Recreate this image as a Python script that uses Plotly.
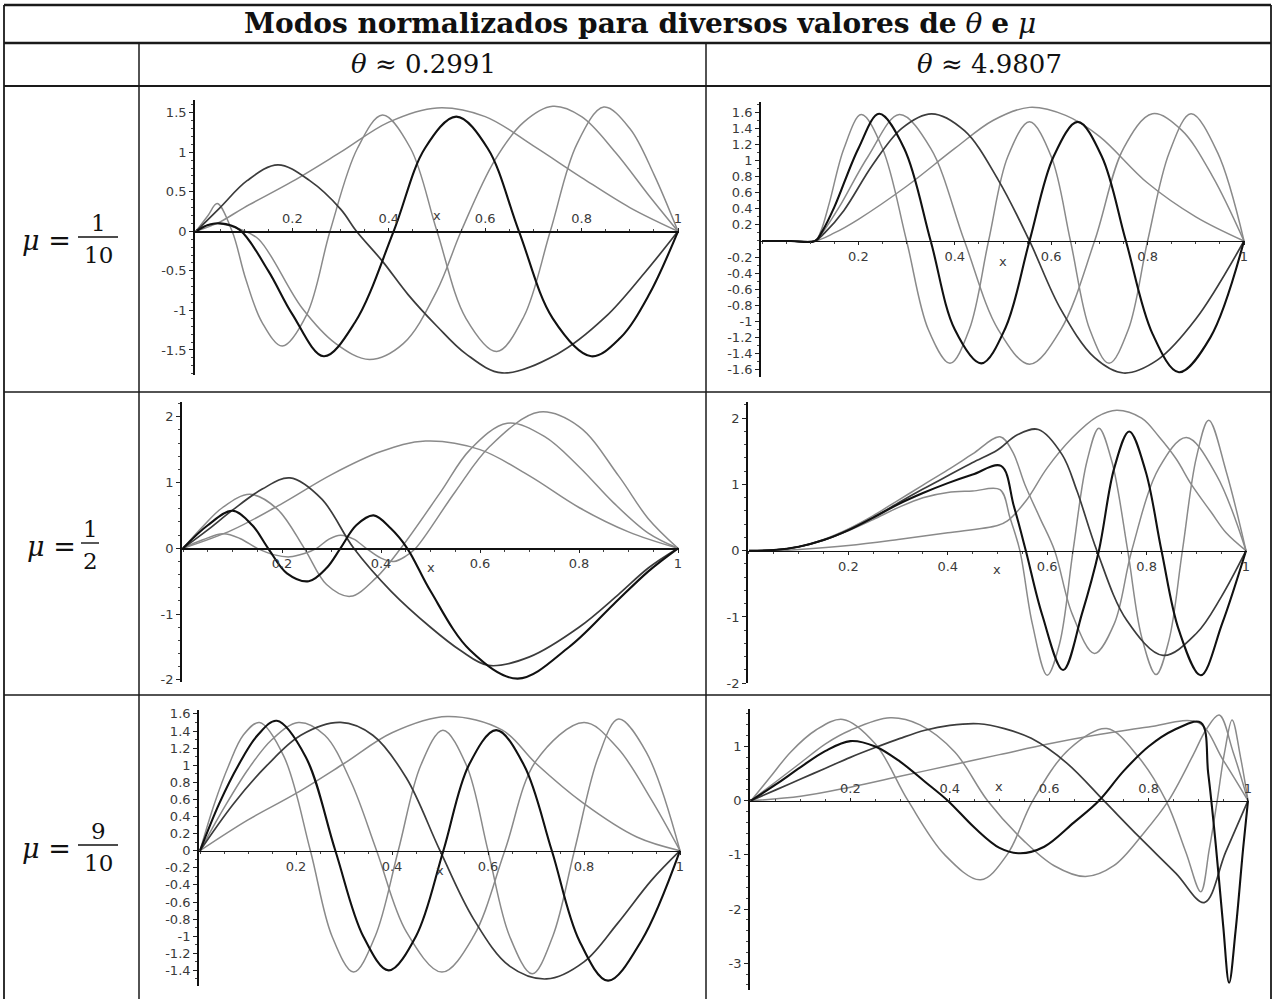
import plotly.graph_objects as go

# ======================= DATA =======================
# Panel A : theta ~ 0.2991, mu = 1/10
a_x1 = [0, 0.05, 0.1, 0.2, 0.3, 0.4, 0.5, 0.6, 0.7, 0.8, 0.9, 1.0]
a_y1 = [0, 0.12, 0.3, 0.63, 1.0, 1.38, 1.56, 1.45, 1.08, 0.68, 0.3, 0]
a_x2 = [0, 0.05, 0.106, 0.17, 0.236, 0.3, 0.333, 0.387, 0.44, 0.5, 0.56, 0.635, 0.75, 0.85, 0.93, 1]
a_y2 = [0, 0.3, 0.64, 0.84, 0.64, 0.28, 0, -0.38, -0.8, -1.2, -1.55, -1.79, -1.55, -1.08, -0.53, 0]
a_x3 = [0, 0.02, 0.04, 0.09, 0.13, 0.22, 0.29, 0.36, 0.43, 0.5, 0.55, 0.62, 0.68, 0.74, 0.8, 0.87, 0.94, 1]
a_y3 = [0, 0.07, 0.1, 0.03, -0.1, -0.97, -1.42, -1.62, -1.42, -0.75, 0, 0.9, 1.38, 1.58, 1.45, 1.0, 0.45, 0]
a_x4 = [0, 0.025, 0.05, 0.09, 0.15, 0.2, 0.265, 0.33, 0.41, 0.475, 0.54, 0.605, 0.67, 0.74, 0.82, 0.88, 0.94, 1]
a_y4 = [0, 0.08, 0.1, 0.02, -0.5, -1.05, -1.58, -1.15, 0, 1.05, 1.45, 1.05, 0, -1.1, -1.58, -1.35, -0.8, 0]
a_x5 = [0, 0.025, 0.044, 0.075, 0.103, 0.137, 0.179, 0.23, 0.278, 0.335, 0.387, 0.445, 0.5, 0.56,
        0.624, 0.68, 0.735, 0.79, 0.846, 0.9, 0.95, 1]
a_y5 = [0, 0.2, 0.35, 0.0, -0.6, -1.15, -1.45, -1.05, 0, 1.05, 1.47, 1.05, 0, -1.1,
        -1.52, -1.08, 0, 1.1, 1.57, 1.3, 0.72, 0]

# Panel B : theta ~ 4.9807, mu = 1/10
b_x1 = [0, 0.06, 0.11, 0.15, 0.2, 0.3, 0.4, 0.48, 0.555, 0.63, 0.7, 0.8, 0.9, 1]
b_y1 = [0, 0, 0, 0.1, 0.27, 0.68, 1.15, 1.5, 1.66, 1.56, 1.3, 0.72, 0.3, 0]
b_x2 = [0, 0.06, 0.11, 0.13, 0.17, 0.23, 0.29, 0.352, 0.42, 0.49, 0.555, 0.62, 0.69, 0.75, 0.82, 0.9, 1]
b_y2 = [0, 0, 0, 0.1, 0.38, 0.95, 1.4, 1.58, 1.37, 0.76, 0, -0.85, -1.45, -1.64, -1.48, -0.97, 0]
b_x3 = [0, 0.06, 0.11, 0.125, 0.16, 0.22, 0.285, 0.35, 0.42, 0.49, 0.555, 0.62, 0.69, 0.75, 0.81, 0.87, 0.935, 1]
b_y3 = [0, 0, 0, 0.1, 0.42, 1.05, 1.57, 1.15, 0, -1.1, -1.53, -1.1, 0, 1.15, 1.58, 1.38, 0.8, 0]
b_x4 = [0, 0.06, 0.11, 0.125, 0.15, 0.2, 0.243, 0.295, 0.35, 0.4, 0.455, 0.505, 0.555, 0.605, 0.655,
        0.705, 0.755, 0.81, 0.865, 0.93, 1]
b_y4 = [0, 0, 0, 0.12, 0.42, 1.15, 1.58, 1.15, 0, -1.1, -1.52, -1.08, 0, 1.05, 1.48,
        1.05, 0, -1.15, -1.63, -1.2, 0]
b_x5 = [0, 0.06, 0.11, 0.122, 0.14, 0.17, 0.206, 0.25, 0.30, 0.345, 0.39, 0.43, 0.47, 0.51, 0.555,
        0.6, 0.64, 0.68, 0.72, 0.76, 0.8, 0.845, 0.89, 0.945, 1]
b_y5 = [0, 0, 0, 0.12, 0.48, 1.15, 1.57, 1.15, 0, -1.1, -1.52, -1.1, 0, 1.05, 1.48,
        1.05, 0, -1.1, -1.52, -1.1, 0, 1.1, 1.58, 1.1, 0]

# Panel C : theta ~ 0.2991, mu = 1/2
c_x1 = [0, 0.1, 0.2, 0.3, 0.4, 0.49, 0.6, 0.7, 0.8, 0.9, 1]
c_y1 = [0, 0.28, 0.68, 1.12, 1.47, 1.63, 1.5, 1.1, 0.62, 0.25, 0]
c_x2 = [0, 0.05, 0.1, 0.16, 0.216, 0.28, 0.345, 0.42, 0.5, 0.56, 0.617, 0.7, 0.8, 0.88, 0.94, 1]
c_y2 = [0, 0.28, 0.58, 0.9, 1.07, 0.75, 0, -0.65, -1.2, -1.55, -1.78, -1.65, -1.2, -0.7, -0.3, 0]
c_x3 = [0, 0.04, 0.08, 0.135, 0.19, 0.245, 0.29, 0.338, 0.39, 0.44, 0.52, 0.58, 0.655, 0.73, 0.8, 0.87, 0.94, 1]
c_y3 = [0, 0.33, 0.62, 0.82, 0.6, 0, -0.55, -0.73, -0.45, 0, 0.85, 1.5, 1.9, 1.7, 1.24, 0.69, 0.23, 0]
c_x4 = [0, 0.05, 0.1, 0.14, 0.172, 0.21, 0.254, 0.29, 0.318, 0.35, 0.385, 0.42, 0.453, 0.5, 0.58,
        0.676, 0.78, 0.87, 0.94, 1]
c_y4 = [0, 0.35, 0.57, 0.35, 0, -0.38, -0.5, -0.3, 0, 0.35, 0.5, 0.3, 0, -0.65, -1.55,
        -1.98, -1.5, -0.85, -0.35, 0]
c_x5 = [0, 0.04, 0.081, 0.115, 0.15, 0.185, 0.216, 0.245, 0.27, 0.295, 0.318, 0.345, 0.37, 0.4,
        0.426, 0.45, 0.47, 0.55, 0.62, 0.72, 0.8, 0.88, 0.94, 1]
c_y5 = [0, 0.13, 0.22, 0.15, 0, -0.1, -0.13, -0.08, 0, 0.14, 0.2, 0.14, 0, -0.15,
        -0.2, -0.12, 0, 0.86, 1.55, 2.07, 1.85, 1.1, 0.45, 0]

# Panel D : theta ~ 4.9807, mu = 1/2
d_x1 = [0, 0.05, 0.1, 0.2, 0.3, 0.4, 0.5, 0.52, 0.557, 0.6, 0.65, 0.7, 0.74, 0.79, 0.825, 0.86,
        0.89, 0.93, 0.96, 1]
d_y1 = [0, 0, 0.02, 0.08, 0.17, 0.27, 0.38, 0.45, 0.75, 1.25, 1.7, 2.02, 2.12, 2.0, 1.72, 1.38,
        1.0, 0.58, 0.27, 0]
d_x2 = [0, 0.05, 0.1, 0.15, 0.2, 0.25, 0.3, 0.35, 0.4, 0.45, 0.5, 0.54, 0.582, 0.63, 0.66, 0.7,
        0.76, 0.833, 0.9, 0.95, 1]
d_y2 = [0, 0.01, 0.06, 0.16, 0.31, 0.5, 0.72, 0.93, 1.13, 1.33, 1.52, 1.75, 1.83, 1.45, 0.9, 0,
        -1.05, -1.58, -1.25, -0.7, 0]
d_x3 = [0, 0.05, 0.1, 0.15, 0.2, 0.25, 0.3, 0.35, 0.4, 0.45, 0.505, 0.53, 0.555, 0.585, 0.615,
        0.65, 0.695, 0.735, 0.77, 0.825, 0.88, 0.94, 1]
d_y3 = [0, 0.01, 0.06, 0.17, 0.33, 0.53, 0.76, 0.99, 1.22, 1.46, 1.72, 1.5, 1.0, 0.5, 0,
        -0.95, -1.55, -1.1, 0, 1.25, 1.71, 1.15, 0]
d_x4 = [0, 0.05, 0.1, 0.15, 0.2, 0.25, 0.3, 0.35, 0.4, 0.45, 0.507, 0.533, 0.557, 0.59, 0.632,
        0.67, 0.704, 0.735, 0.765, 0.798, 0.83, 0.865, 0.909, 0.952, 1]
d_y4 = [0, 0.01, 0.06, 0.16, 0.31, 0.5, 0.7, 0.87, 1.02, 1.15, 1.28, 0.67, 0, -0.97, -1.8,
        -0.95, 0, 1.25, 1.8, 1.2, 0, -1.2, -1.88, -1.1, 0]
d_x5 = [0, 0.05, 0.1, 0.15, 0.2, 0.25, 0.3, 0.35, 0.4, 0.45, 0.505, 0.525, 0.545, 0.57, 0.6,
        0.625, 0.652, 0.68, 0.704, 0.73, 0.762, 0.79, 0.819, 0.845, 0.872, 0.9, 0.925, 0.96, 1]
d_y5 = [0, 0.01, 0.06, 0.16, 0.3, 0.47, 0.65, 0.8, 0.88, 0.9, 0.92, 0.5, 0, -1.1, -1.88,
        -1.4, 0, 1.35, 1.85, 1.35, 0, -1.3, -1.87, -1.35, 0, 1.4, 1.97, 1.2, 0]

# Panel E : theta ~ 0.2991, mu = 9/10
e_x1 = [0, 0.1, 0.2, 0.3, 0.4, 0.515, 0.63, 0.7, 0.8, 0.91, 1]
e_y1 = [0, 0.36, 0.67, 1.02, 1.38, 1.57, 1.41, 1.02, 0.55, 0.16, 0]
e_x2 = [0, 0.07, 0.14, 0.21, 0.293, 0.36, 0.43, 0.5, 0.57, 0.645, 0.722, 0.8, 0.87, 0.94, 1]
e_y2 = [0, 0.55, 1.0, 1.35, 1.5, 1.35, 0.85, 0, -0.8, -1.35, -1.5, -1.3, -0.85, -0.35, 0]
e_x3 = [0, 0.05, 0.1, 0.15, 0.205, 0.26, 0.315, 0.368, 0.43, 0.504, 0.57, 0.635, 0.7, 0.8, 0.87, 0.94, 1]
e_y3 = [0, 0.5, 0.95, 1.3, 1.5, 1.35, 0.8, 0, -0.95, -1.42, -1.0, 0, 1.05, 1.5, 1.2, 0.6, 0]
e_x4 = [0, 0.04, 0.08, 0.12, 0.16, 0.22, 0.282, 0.34, 0.393, 0.45, 0.507, 0.56, 0.617, 0.675,
        0.733, 0.79, 0.85, 0.92, 1]
e_y4 = [0, 0.55, 1.0, 1.35, 1.52, 1.1, 0, -1.0, -1.4, -1.0, 0, 1.0, 1.41, 1.0,
        0, -1.05, -1.52, -1.05, 0]
e_x5 = [0, 0.03, 0.06, 0.09, 0.124, 0.175, 0.23, 0.275, 0.32, 0.365, 0.413, 0.46, 0.506, 0.555,
        0.6, 0.645, 0.692, 0.735, 0.78, 0.83, 0.872, 0.93, 1]
e_y5 = [0, 0.55, 1.0, 1.35, 1.5, 1.1, 0, -1.0, -1.42, -1.0, 0, 1.0, 1.41, 1.0,
        0, -1.0, -1.44, -1.0, 0, 1.1, 1.54, 1.15, 0]

# Panel F : theta ~ 4.9807, mu = 9/10
f_x1 = [0, 0.1, 0.2, 0.3, 0.4, 0.5, 0.6, 0.7, 0.8, 0.9, 0.95, 1]
f_y1 = [0, 0.08, 0.25, 0.45, 0.65, 0.85, 1.05, 1.22, 1.36, 1.44, 0.75, 0]
f_x2 = [0, 0.05, 0.1, 0.15, 0.2, 0.25, 0.3, 0.35, 0.4, 0.458, 0.51, 0.564, 0.636, 0.71, 0.78,
        0.855, 0.912, 0.955, 1]
f_y2 = [0, 0.2, 0.4, 0.6, 0.8, 0.98, 1.15, 1.3, 1.39, 1.42, 1.33, 1.15, 0.69, 0, -0.66,
        -1.34, -1.88, -0.95, 0]
f_x3 = [0, 0.05, 0.1, 0.15, 0.2, 0.28, 0.34, 0.41, 0.476, 0.55, 0.61, 0.673, 0.73, 0.79, 0.84,
        0.89, 0.915, 0.942, 0.97, 1]
f_y3 = [0, 0.35, 0.7, 1.05, 1.3, 1.53, 1.4, 0.9, 0, -0.75, -1.2, -1.4, -1.2, -0.6, 0,
        0.85, 1.3, 1.58, 0.9, 0]
f_x4 = [0, 0.05, 0.1, 0.15, 0.2, 0.25, 0.3, 0.35, 0.396, 0.45, 0.5, 0.542, 0.59, 0.65, 0.70,
        0.75, 0.8, 0.85, 0.905, 0.92, 0.935, 0.95, 0.962, 0.975, 0.99, 1]
f_y4 = [0, 0.3, 0.62, 0.92, 1.1, 1.0, 0.72, 0.35, 0, -0.5, -0.87, -0.97, -0.85, -0.4, 0,
        0.55, 1.0, 1.3, 1.44, 0.5, -0.8, -2.3, -3.36, -2.4, -0.9, 0]
f_x5 = [0, 0.04, 0.08, 0.13, 0.185, 0.25, 0.316, 0.39, 0.462, 0.515, 0.567, 0.64, 0.716, 0.78,
        0.835, 0.875, 0.905, 0.922, 0.938, 0.953, 0.968, 0.985, 1]
f_y5 = [0, 0.45, 0.9, 1.3, 1.5, 1.05, 0, -1.0, -1.46, -1.0, 0, 0.95, 1.33, 0.8,
        0, -0.95, -1.68, -0.9, 0, 0.9, 1.49, 0.8, 0]

# tick labels
x_ticks = [0.2, 0.4, 0.6, 0.8, 1]
x_tick_text = ["0.2", "0.4", "0.6", "0.8", "1"]
a_yticks = [-1.5, -1, -0.5, 0, 0.5, 1, 1.5]
a_ytext = ["-1.5", "-1", "-0.5", "0", "0.5", "1", "1.5"]
b_yticks = [-1.6, -1.4, -1.2, -1, -0.8, -0.6, -0.4, -0.2, 0.2, 0.4, 0.6, 0.8, 1, 1.2, 1.4, 1.6]
b_ytext = ["-1.6", "-1.4", "-1.2", "-1", "-0.8", "-0.6", "-0.4", "-0.2",
           "0.2", "0.4", "0.6", "0.8", "1", "1.2", "1.4", "1.6"]
c_yticks = [-2, -1, 0, 1, 2]
c_ytext = ["-2", "-1", "0", "1", "2"]
d_yticks = [-2, -1, 0, 1, 2]
d_ytext = ["-2", "-1", "0", "1", "2"]
e_yticks = [-1.4, -1.2, -1, -0.8, -0.6, -0.4, -0.2, 0, 0.2, 0.4, 0.6, 0.8, 1, 1.2, 1.4, 1.6]
e_ytext = ["-1.4", "-1.2", "-1", "-0.8", "-0.6", "-0.4", "-0.2", "0",
           "0.2", "0.4", "0.6", "0.8", "1", "1.2", "1.4", "1.6"]
f_yticks = [-3, -2, -1, 0, 1]
f_ytext = ["-3", "-2", "-1", "0", "1"]

title_text = "Modos normalizados para diversos valores de"
col_headers = ["0.2991", "4.9807"]
row_num = ["1", "1", "9"]
row_den = ["10", "2", "10"]

# ======================= LAYOUT =======================
W, H = 1274, 999


def fx(p):
    return p / W


def fy(p):
    return 1 - p / H


GRAY = "#8a8a8a"
DARK = "#3c3c3c"
BLACK = "#111111"
mode_style = {1: (GRAY, 1.5), 2: (DARK, 1.7), 3: (GRAY, 1.5), 4: (BLACK, 2.1), 5: (GRAY, 1.5)}
draw_order = [1, 3, 5, 2, 4]

panels = [
    dict(cur={1: (a_x1, a_y1), 2: (a_x2, a_y2), 3: (a_x3, a_y3), 4: (a_x4, a_y4), 5: (a_x5, a_y5)},
         x0=196, x1=678, zero=231.3, unit=79.1, ymin=-1.82, ymax=1.66,
         yt=a_yticks, ytt=a_ytext, side="top", ymin_d=0.1, xlab=0.2),
    dict(cur={1: (b_x1, b_y1), 2: (b_x2, b_y2), 3: (b_x3, b_y3), 4: (b_x4, b_y4), 5: (b_x5, b_y5)},
         x0=762, x1=1244, zero=241.0, unit=80.5, ymin=-1.69, ymax=1.73,
         yt=b_yticks, ytt=b_ytext, side="bottom", ymin_d=0.1, xlab=-0.25),
    dict(cur={1: (c_x1, c_y1), 2: (c_x2, c_y2), 3: (c_x3, c_y3), 4: (c_x4, c_y4), 5: (c_x5, c_y5)},
         x0=183, x1=678, zero=548.3, unit=65.8, ymin=-2.03, ymax=2.22,
         yt=c_yticks, ytt=c_ytext, side="bottom", ymin_d=0.2, xlab=-0.29),
    dict(cur={1: (d_x1, d_y1), 2: (d_x2, d_y2), 3: (d_x3, d_y3), 4: (d_x4, d_y4), 5: (d_x5, d_y5)},
         x0=749, x1=1246, zero=550.7, unit=66.25, ymin=-2.0, ymax=2.25,
         yt=d_yticks, ytt=d_ytext, side="bottom", ymin_d=0.2, xlab=-0.29),
    dict(cur={1: (e_x1, e_y1), 2: (e_x2, e_y2), 3: (e_x3, e_y3), 4: (e_x4, e_y4), 5: (e_x5, e_y5)},
         x0=200, x1=680, zero=850.7, unit=85.5, ymin=-1.58, ymax=1.65,
         yt=e_yticks, ytt=e_ytext, side="bottom", ymin_d=0.1, xlab=-0.23),
    dict(cur={1: (f_x1, f_y1), 2: (f_x2, f_y2), 3: (f_x3, f_y3), 4: (f_x4, f_y4), 5: (f_x5, f_y5)},
         x0=751, x1=1248, zero=800.7, unit=54.2, ymin=-3.49, ymax=1.70,
         yt=f_yticks, ytt=f_ytext, side="top", ymin_d=0.2, xlab=0.27),
]

tick_font = dict(family="DejaVu Sans, Liberation Sans, sans-serif", size=13, color="#3a3a3a")

fig = go.Figure()
layout_axes = {}
annotations = []
XR = [-0.003, 1.003]

for i, P in enumerate(panels, start=1):
    xname = "x" if i == 1 else f"x{i}"
    yname = "y" if i == 1 else f"y{i}"
    xkey = "xaxis" if i == 1 else f"xaxis{i}"
    ykey = "yaxis" if i == 1 else f"yaxis{i}"
    U = P["x1"] - P["x0"]
    dx0 = P["x0"] + XR[0] * U
    dx1 = P["x0"] + XR[1] * U
    top = P["zero"] - P["ymax"] * P["unit"]
    bot = P["zero"] - P["ymin"] * P["unit"]

    for m in draw_order:
        xs, ys = P["cur"][m]
        col, wd = mode_style[m]
        fig.add_trace(go.Scatter(
            x=xs, y=ys, mode="lines", xaxis=xname, yaxis=yname,
            line=dict(color=col, width=wd, shape="spline", smoothing=1.0),
            showlegend=False, hoverinfo="skip"))

    layout_axes[xkey] = dict(
        domain=[fx(dx0), fx(dx1)], range=XR, anchor="free", position=fy(P["zero"]),
        side=P["side"], showline=True, linecolor="#111111", linewidth=1.4,
        ticks="outside", ticklen=3, tickwidth=1, tickcolor="#222222",
        tickmode="array", tickvals=x_ticks, ticktext=x_tick_text, tickfont=tick_font,
        showgrid=False, zeroline=False, automargin=False, fixedrange=True,
        minor=dict(tickmode="linear", tick0=0, dtick=0.05, ticks="outside",
                   ticklen=2, tickcolor="#444444", showgrid=False))
    layout_axes[ykey] = dict(
        domain=[fy(bot), fy(top)], range=[P["ymin"], P["ymax"]], anchor=xname, side="left",
        showline=True, linecolor="#111111", linewidth=1.4,
        ticks="outside", ticklen=4, tickwidth=1, tickcolor="#222222",
        tickmode="array", tickvals=P["yt"], ticktext=P["ytt"], tickfont=tick_font,
        showgrid=False, zeroline=False, automargin=False, fixedrange=True,
        minor=dict(tickmode="linear", tick0=0, dtick=P["ymin_d"], ticks="outside",
                   ticklen=2, tickcolor="#444444", showgrid=False))
    annotations.append(dict(x=0.5, y=P["xlab"], xref=xname, yref=yname, text="x",
                            showarrow=False, font=dict(family="DejaVu Sans, sans-serif", size=13,
                                                       color="#3a3a3a")))

# ---- table frame ----
shapes = []


def hline(y, x0, x1, w):
    shapes.append(dict(type="line", xref="paper", yref="paper", x0=fx(x0), x1=fx(x1),
                       y0=fy(y), y1=fy(y), line=dict(color="#1a1a1a", width=w)))


def vline(x, y0, y1, w):
    shapes.append(dict(type="line", xref="paper", yref="paper", x0=fx(x), x1=fx(x),
                       y0=fy(y0), y1=fy(y1), line=dict(color="#1a1a1a", width=w)))


hline(5, 4, 1271, 2.5)
hline(43, 4, 1271, 2.5)
hline(86, 4, 1271, 2.2)
hline(392, 4, 1271, 1.5)
hline(695, 4, 1271, 1.5)
vline(4, 5, 999, 1.8)
vline(1271, 5, 999, 1.8)
vline(139, 43, 999, 1.5)
vline(706, 43, 999, 1.5)

serif = "DejaVu Serif, Liberation Serif, serif"
annotations.append(dict(
    x=fx(640), y=fy(23), xref="paper", yref="paper", showarrow=False,
    text=f"<b>{title_text}</b> <i>θ</i> <b>e</b> <i>μ</i>",
    font=dict(family=serif, size=28, color="#111111"), xanchor="center", yanchor="middle"))
for cx, val in zip([423, 989], col_headers):
    annotations.append(dict(
        x=fx(cx), y=fy(64), xref="paper", yref="paper", showarrow=False,
        text=f"<i>θ</i> ≈ {val}", font=dict(family=serif, size=26, color="#111111"),
        xanchor="center", yanchor="middle"))

# row labels with stacked fractions
row_geo = [  # (mu_eq_center_x, centre_y, frac_center_x, bar_half_width)
    (46, 240, 98, 20),
    (52, 546, 90, 9),
    (46, 848, 98, 20),
]
for (mx, cy, fxc, hw), num, den in zip(row_geo, row_num, row_den):
    annotations.append(dict(x=fx(mx), y=fy(cy), xref="paper", yref="paper", showarrow=False,
                            text="<i>μ</i> =", font=dict(family=serif, size=27, color="#111111"),
                            xanchor="center", yanchor="middle"))
    annotations.append(dict(x=fx(fxc), y=fy(cy - 17), xref="paper", yref="paper", showarrow=False,
                            text=num, font=dict(family=serif, size=23, color="#111111"),
                            xanchor="center", yanchor="middle"))
    annotations.append(dict(x=fx(fxc), y=fy(cy + 15), xref="paper", yref="paper", showarrow=False,
                            text=den, font=dict(family=serif, size=23, color="#111111"),
                            xanchor="center", yanchor="middle"))
    shapes.append(dict(type="line", xref="paper", yref="paper", x0=fx(fxc - hw), x1=fx(fxc + hw),
                       y0=fy(cy - 3), y1=fy(cy - 3), line=dict(color="#111111", width=1.4)))

fig.update_layout(
    width=W, height=H, margin=dict(l=0, r=0, t=0, b=0),
    paper_bgcolor="white", plot_bgcolor="rgba(0,0,0,0)",
    shapes=shapes, annotations=annotations, **layout_axes)

fig.write_html(
    "out.html",
    config={"displayModeBar": False, "staticPlot": True},
    post_script="document.body.style.margin='0';document.body.style.overflow='hidden';")
